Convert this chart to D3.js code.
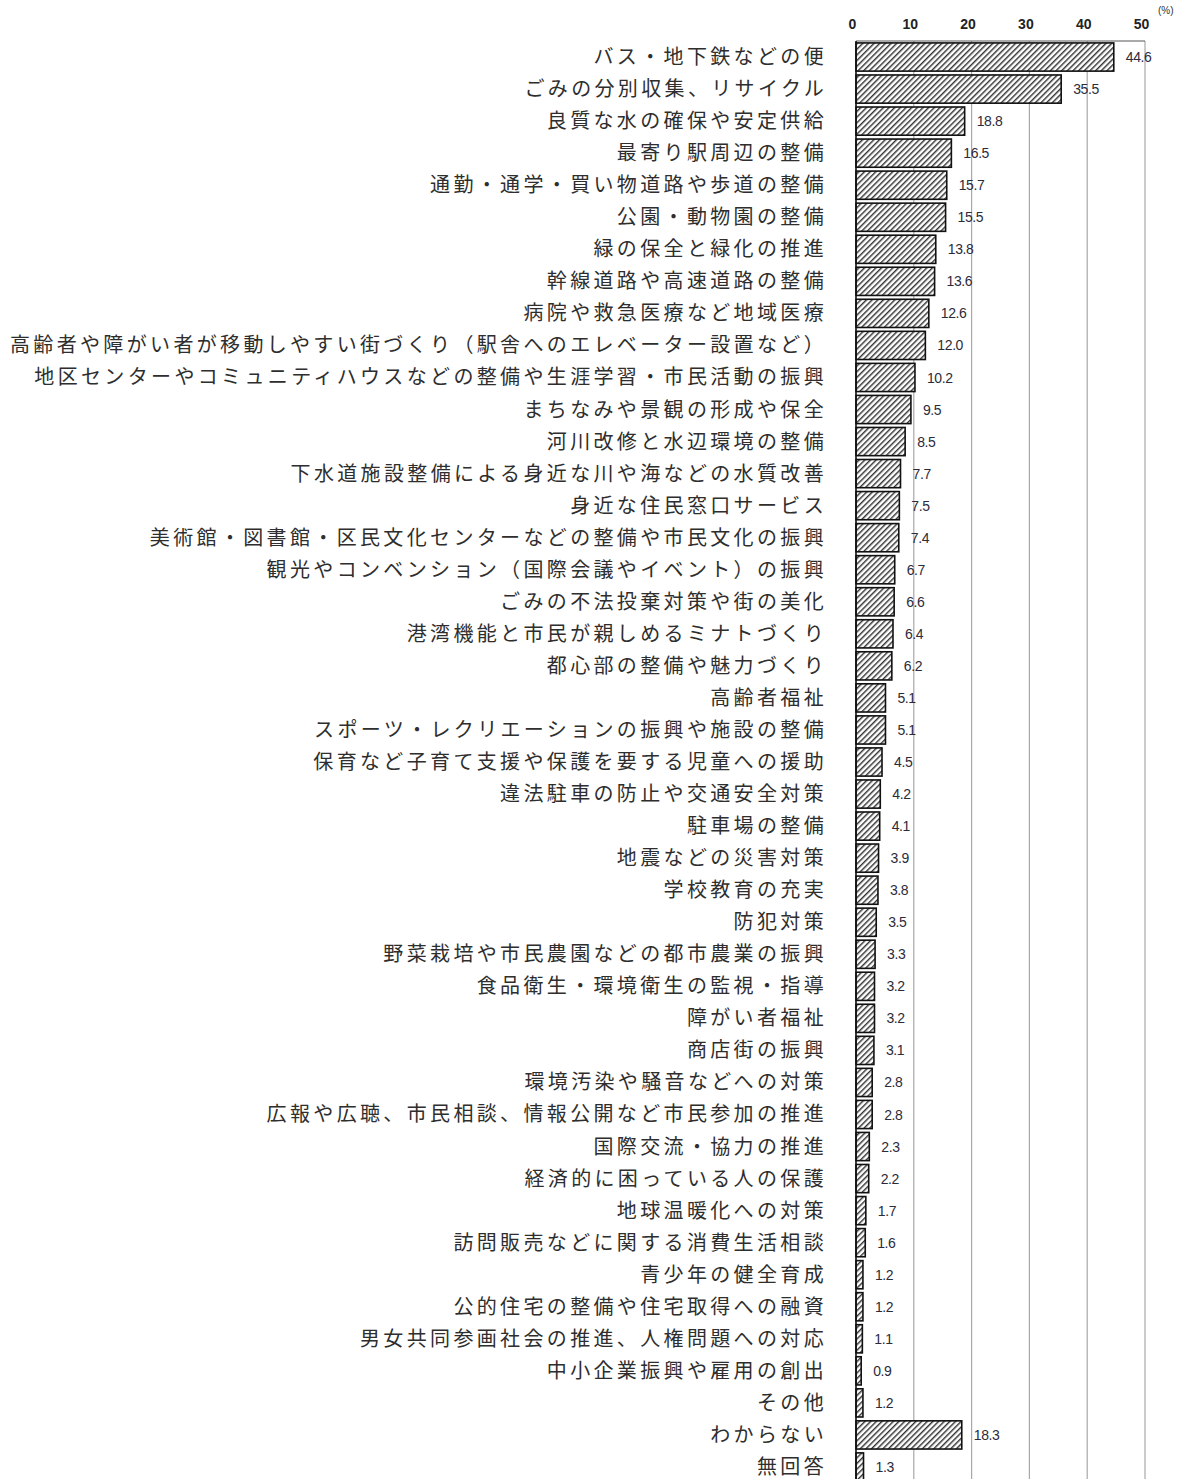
<!DOCTYPE html>
<html>
<head>
<meta charset="utf-8">
<script src="https://cdn.jsdelivr.net/npm/d3@7"></script>
<style>
  body { margin: 0; background: #fff; }
  .cat { font-family: "Noto Sans CJK JP", sans-serif; font-size: 20px; fill: #2e2e2e; letter-spacing: 3.35px; }
  .val { font-family: "Liberation Sans", Arial, sans-serif; font-size: 14px; fill: #2b2b3a; letter-spacing: -0.4px; }
  .tick text { font-family: "Liberation Sans", Arial, sans-serif; font-size: 14px; fill: #222; font-weight: bold; }
</style>
</head>
<body>
<div id="chart"></div>
<script>
var categories = [
  "バス・地下鉄などの便",
  "ごみの分別収集、リサイクル",
  "良質な水の確保や安定供給",
  "最寄り駅周辺の整備",
  "通勤・通学・買い物道路や歩道の整備",
  "公園・動物園の整備",
  "緑の保全と緑化の推進",
  "幹線道路や高速道路の整備",
  "病院や救急医療など地域医療",
  "高齢者や障がい者が移動しやすい街づくり（駅舎へのエレベーター設置など）",
  "地区センターやコミュニティハウスなどの整備や生涯学習・市民活動の振興",
  "まちなみや景観の形成や保全",
  "河川改修と水辺環境の整備",
  "下水道施設整備による身近な川や海などの水質改善",
  "身近な住民窓口サービス",
  "美術館・図書館・区民文化センターなどの整備や市民文化の振興",
  "観光やコンベンション（国際会議やイベント）の振興",
  "ごみの不法投棄対策や街の美化",
  "港湾機能と市民が親しめるミナトづくり",
  "都心部の整備や魅力づくり",
  "高齢者福祉",
  "スポーツ・レクリエーションの振興や施設の整備",
  "保育など子育て支援や保護を要する児童への援助",
  "違法駐車の防止や交通安全対策",
  "駐車場の整備",
  "地震などの災害対策",
  "学校教育の充実",
  "防犯対策",
  "野菜栽培や市民農園などの都市農業の振興",
  "食品衛生・環境衛生の監視・指導",
  "障がい者福祉",
  "商店街の振興",
  "環境汚染や騒音などへの対策",
  "広報や広聴、市民相談、情報公開など市民参加の推進",
  "国際交流・協力の推進",
  "経済的に困っている人の保護",
  "地球温暖化への対策",
  "訪問販売などに関する消費生活相談",
  "青少年の健全育成",
  "公的住宅の整備や住宅取得への融資",
  "男女共同参画社会の推進、人権問題への対応",
  "中小企業振興や雇用の創出",
  "その他",
  "わからない",
  "無回答"
];
var values = [44.6, 35.5, 18.8, 16.5, 15.7, 15.5, 13.8, 13.6, 12.6, 12.0,
  10.2, 9.5, 8.5, 7.7, 7.5, 7.4, 6.7, 6.6, 6.4, 6.2,
  5.1, 5.1, 4.5, 4.2, 4.1, 3.9, 3.8, 3.5, 3.3, 3.2,
  3.2, 3.1, 2.8, 2.8, 2.3, 2.2, 1.7, 1.6, 1.2, 1.2,
  1.1, 0.9, 1.2, 18.3, 1.3];
var xTicks = [0, 10, 20, 30, 40, 50];

var W = 1184, H = 1479;
var data = categories.map((c, i) => ({name: c, value: values[i]}));

var svg = d3.select("#chart").append("svg")
  .attr("width", W)
  .attr("height", H);

// hatch pattern
var pat = svg.append("defs").append("pattern")
  .attr("id", "hatch")
  .attr("patternUnits", "userSpaceOnUse")
  .attr("width", 4)
  .attr("height", 4)
  .attr("patternTransform", "rotate(45)");
pat.append("rect").attr("width", 4).attr("height", 4).attr("fill", "#fff");
pat.append("line")
  .attr("x1", 0).attr("y1", 0).attr("x2", 0).attr("y2", 4)
  .attr("stroke", "#333").attr("stroke-width", 2.9);

var x = d3.scaleLinear().domain([0, 50]).range([856, 1145]);
var y = d3.scaleBand().domain(categories).range([41, 1483])
  .paddingInner(0.12).paddingOuter(0.06);

var top0 = 41;

/* grid */
svg.append("g").selectAll("line")
  .data(xTicks.slice(1)).enter()
  .append("line")
  .attr("x1", d => x(d)).attr("x2", d => x(d))
  .attr("y1", top0).attr("y2", H)
  .attr("stroke", "#a8a8a8").attr("stroke-width", 1.2);

svg.append("line")
  .attr("x1", x(0)).attr("x2", x(50))
  .attr("y1", top0).attr("y2", top0)
  .attr("stroke", "#555").attr("stroke-width", 1);

/* axis */
var xAxis = d3.axisTop(x).tickValues(xTicks).tickSize(0).tickPadding(0);
var ax = svg.append("g")
  .attr("class", "x axis")
  .attr("transform", "translate(0, 29)")
  .call(xAxis);
ax.select(".domain").remove();
ax.selectAll(".tick text").attr("dx", -4);

svg.append("text")
  .attr("x", 1158).attr("y", 14)
  .style("font-family", "Liberation Sans, Arial, sans-serif")
  .style("font-size", "10px")
  .style("fill", "#333")
  .text("(%)");

/* bars */
svg.append("g").selectAll("rect")
  .data(data).enter()
  .append("rect")
  .attr("x", x(0))
  .attr("y", d => y(d.name))
  .attr("width", d => x(d.value) - x(0))
  .attr("height", y.bandwidth())
  .attr("fill", "url(#hatch)")
  .attr("stroke", "#111")
  .attr("stroke-width", 1.6);

/* left axis line */
svg.append("line")
  .attr("x1", x(0)).attr("x2", x(0))
  .attr("y1", top0).attr("y2", H)
  .attr("stroke", "#111").attr("stroke-width", 1.6);

/* value labels */
svg.append("g").selectAll("text")
  .data(data).enter()
  .append("text")
  .attr("class", "val")
  .attr("x", d => x(d.value) + 12)
  .attr("y", d => y(d.name) + y.bandwidth() / 2)
  .attr("dy", "0.36em")
  .text(d => d.value.toFixed(1));

/* category labels */
svg.append("g").selectAll("text")
  .data(data).enter()
  .append("text")
  .attr("class", "cat")
  .attr("x", 827)
  .attr("y", d => y(d.name) + y.bandwidth() / 2)
  .attr("dy", "0.35em")
  .attr("text-anchor", "end")
  .text(d => d.name);
</script>
</body>
</html>
